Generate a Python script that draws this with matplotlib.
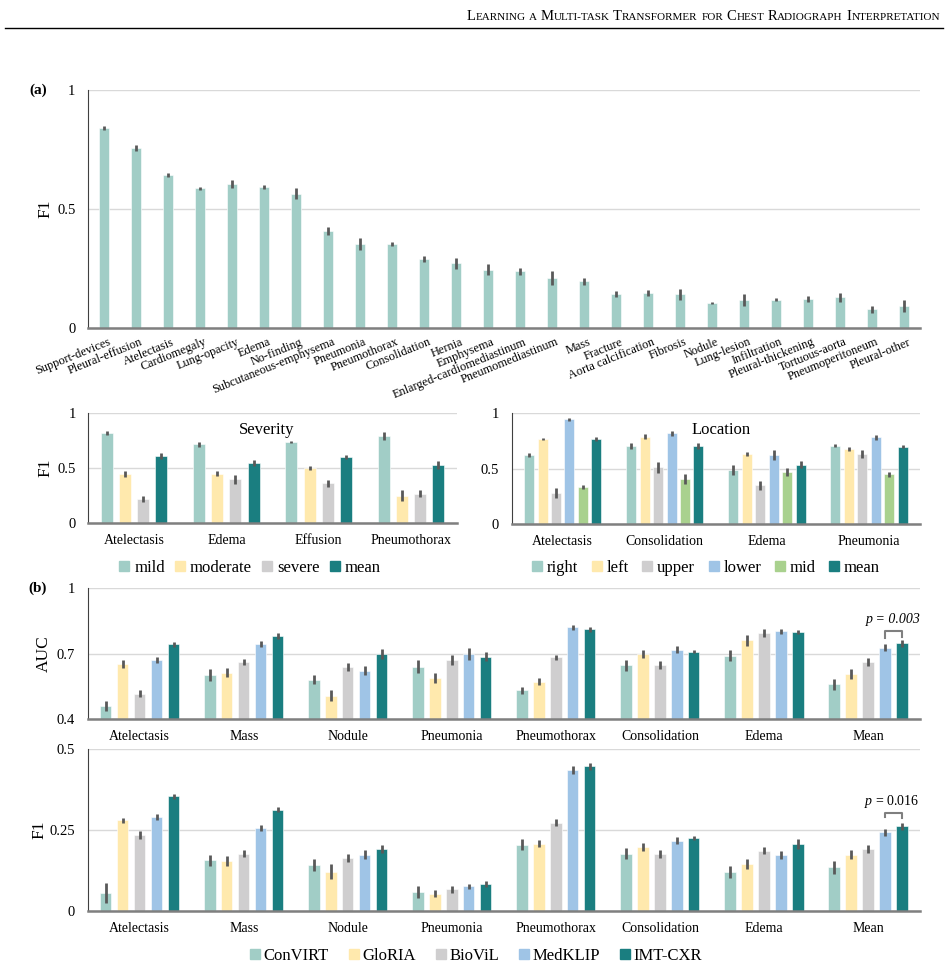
import matplotlib
matplotlib.use("Agg")
import matplotlib.pyplot as plt
import matplotlib.transforms as mtransforms
from matplotlib.patches import Patch
import numpy as np

plt.rcParams['font.family'] = ['Liberation Serif', 'DejaVu Serif']
plt.rcParams['mathtext.fontset'] = 'custom'
plt.rcParams['mathtext.it'] = 'Liberation Serif:italic'
plt.rcParams['mathtext.rm'] = 'Liberation Serif'

# ---------------- data ----------------
# (a) top: per-finding F1
top_labels = ["Support-devices", "Pleural-effusion", "Atelectasis", "Cardiomegaly", "Lung-opacity",
              "Edema", "No-finding", "Subcutaneous-emphysema", "Pneumonia", "Pneumothorax",
              "Consolidation", "Hernia", "Emphysema", "Enlarged-cardiomediastinum",
              "Pneumomediastinum", "Mass", "Fracture", "Aorta calcification", "Fibrosis", "Nodule",
              "Lung-lesion", "Infiltration", "Pleural-thickening", "Tortuous-aorta",
              "Pneumoperitoneum", "Pleural-other"]
top_f1 = [0.839, 0.756, 0.641, 0.586, 0.606, 0.593, 0.564, 0.407, 0.352, 0.352,
          0.289, 0.271, 0.244, 0.238, 0.209, 0.195, 0.143, 0.145, 0.140, 0.104,
          0.117, 0.117, 0.121, 0.128, 0.077, 0.091]
top_err = [0.009, 0.011, 0.008, 0.008, 0.017, 0.008, 0.022, 0.017, 0.027, 0.007,
           0.011, 0.024, 0.023, 0.015, 0.030, 0.015, 0.012, 0.013, 0.022, 0.006,
           0.024, 0.006, 0.011, 0.018, 0.015, 0.027]

# Severity
sev_groups = ["Atelectasis", "Edema", "Effusion", "Pneumothorax"]
sev_series = ["mild", "moderate", "severe", "mean"]
sev_mild = [0.818, 0.712, 0.733, 0.788]
sev_moderate = [0.443, 0.445, 0.497, 0.245]
sev_severe = [0.215, 0.394, 0.358, 0.264]
sev_mean = [0.606, 0.545, 0.600, 0.524]
sev_mild_err = [0.018, 0.021, 0.012, 0.036]
sev_moderate_err = [0.030, 0.024, 0.018, 0.048]
sev_severe_err = [0.030, 0.040, 0.030, 0.033]
sev_mean_err = [0.024, 0.026, 0.020, 0.038]

# Location
loc_groups = ["Atelectasis", "Consolidation", "Edema", "Pneumonia"]
loc_series = ["right", "left", "upper", "lower", "mid", "mean"]
loc_right = [0.620, 0.705, 0.488, 0.708]
loc_left = [0.768, 0.789, 0.632, 0.678]
loc_upper = [0.277, 0.512, 0.349, 0.632]
loc_lower = [0.946, 0.819, 0.623, 0.783]
loc_mid = [0.334, 0.404, 0.470, 0.449]
loc_mean = [0.768, 0.705, 0.536, 0.699]
loc_right_err = [0.018, 0.024, 0.042, 0.015]
loc_left_err = [0.006, 0.021, 0.015, 0.015]
loc_upper_err = [0.045, 0.051, 0.042, 0.032]
loc_lower_err = [0.012, 0.020, 0.045, 0.020]
loc_mid_err = [0.017, 0.047, 0.036, 0.021]
loc_mean_err = [0.018, 0.026, 0.030, 0.015]

# (b) model comparison
b_groups = ["Atelectasis", "Mass", "Nodule", "Pneumonia", "Pneumothorax", "Consolidation", "Edema", "Mean"]
models = ["ConVIRT", "GloRIA", "BioViL", "MedKLIP", "IMT-CXR"]
auc_convirt = [0.460, 0.603, 0.581, 0.640, 0.533, 0.647, 0.691, 0.560]
auc_gloria = [0.653, 0.614, 0.508, 0.588, 0.572, 0.699, 0.762, 0.609]
auc_biovil = [0.517, 0.664, 0.640, 0.670, 0.684, 0.650, 0.795, 0.662]
auc_medklip = [0.672, 0.745, 0.623, 0.699, 0.821, 0.719, 0.803, 0.727]
auc_imt = [0.744, 0.782, 0.698, 0.687, 0.812, 0.710, 0.800, 0.748]
auc_convirt_err = [0.024, 0.029, 0.021, 0.030, 0.017, 0.024, 0.025, 0.025]
auc_gloria_err = [0.018, 0.021, 0.026, 0.023, 0.016, 0.020, 0.026, 0.023]
auc_biovil_err = [0.017, 0.014, 0.020, 0.023, 0.012, 0.018, 0.019, 0.018]
auc_medklip_err = [0.015, 0.015, 0.020, 0.027, 0.011, 0.015, 0.012, 0.016]
auc_imt_err = [0.011, 0.014, 0.024, 0.020, 0.012, 0.008, 0.011, 0.015]

f1_convirt = [0.055, 0.156, 0.142, 0.058, 0.204, 0.176, 0.120, 0.134]
f1_gloria = [0.280, 0.155, 0.121, 0.053, 0.208, 0.198, 0.145, 0.173]
f1_biovil = [0.235, 0.177, 0.164, 0.066, 0.273, 0.176, 0.186, 0.191]
f1_medklip = [0.290, 0.255, 0.174, 0.075, 0.436, 0.217, 0.172, 0.243]
f1_imt = [0.355, 0.313, 0.191, 0.082, 0.447, 0.226, 0.206, 0.262]
f1_convirt_err = [0.030, 0.017, 0.018, 0.018, 0.017, 0.017, 0.019, 0.019]
f1_gloria_err = [0.007, 0.016, 0.024, 0.011, 0.012, 0.013, 0.015, 0.014]
f1_biovil_err = [0.012, 0.011, 0.012, 0.012, 0.011, 0.012, 0.010, 0.011]
f1_medklip_err = [0.009, 0.009, 0.013, 0.009, 0.011, 0.010, 0.013, 0.011]
f1_imt_err = [0.008, 0.008, 0.011, 0.010, 0.012, 0.006, 0.015, 0.011]

auc_pvalue = "p = 0.003"
f1_pvalue = "0.016"

# ---------------- style ----------------
C_TEAL_L = '#a1cdc6'
C_YEL = '#ffe9ad'
C_GRAY = '#cfcecf'
C_BLUE = '#9fc4e6'
C_GREEN = '#a9d18e'
C_TEAL_D = '#1a7e80'
ERR_C = '#595959'
GRID_C = '#d9d9d9'

W, H = 948, 967
fig = plt.figure(figsize=(W / 100, H / 100), dpi=100)


def ax_px(left, top, right, bottom):
    return fig.add_axes([left / W, 1 - bottom / H, (right - left) / W, (bottom - top) / H])


def style_ax(ax, ylim, yticks, yticklabels):
    ax.set_ylim(*ylim)
    ax.set_yticks(yticks)
    ax.set_yticklabels(yticklabels, fontsize=10.5)
    ax.yaxis.grid(True, color=GRID_C, lw=1.0)
    ax.set_axisbelow(True)
    for s in ['top', 'right']:
        ax.spines[s].set_visible(False)
    ax.spines['left'].set_color('#404040')
    ax.spines['left'].set_linewidth(0.8)
    ax.spines['bottom'].set_color('#7f7f7f')
    ax.spines['bottom'].set_linewidth(1.8)
    ax.spines['bottom'].set_zorder(5)
    ax.tick_params(axis='both', length=0)
    ax.tick_params(axis='y', pad=9)


def grouped(ax, groups, vals, errs, colors, spacing, width):
    n = len(vals)
    x = np.arange(len(groups))
    for i, (v, e, c) in enumerate(zip(vals, errs, colors)):
        off = (i - (n - 1) / 2) * spacing
        ax.bar(x + off, v, width, color=c, edgecolor='white', linewidth=0.4, zorder=2)
        ax.errorbar(x + off, v, yerr=e, fmt='none', ecolor=ERR_C, elinewidth=2.0, capsize=0, zorder=3)
    ax.set_xlim(-0.5, len(groups) - 0.5)
    ax.set_xticks(x)
    ax.set_xticklabels(groups, fontsize=10)
    ax.tick_params(axis='x', pad=8)
    return x


# ---------------- (a) top ----------------
ax1 = ax_px(88, 90, 920, 327.7)
style_ax(ax1, (0, 1), [0, 0.5, 1], ['0', '0.5', '1'])
xs = np.arange(len(top_labels))
ax1.bar(xs, top_f1, 0.31, color=C_TEAL_L, edgecolor='white', linewidth=0.4, zorder=2)
ax1.errorbar(xs, top_f1, yerr=top_err, fmt='none', ecolor=ERR_C, elinewidth=2.0, capsize=0, zorder=3)
ax1.set_xlim(-0.5, len(top_labels) - 0.5)
ax1.set_xticks(xs)
ax1.set_xticklabels(top_labels, fontsize=8.8, rotation=22, ha='right', va='top', rotation_mode='anchor')
ax1.tick_params(axis='x', pad=6)
offset = mtransforms.ScaledTranslation(4 / 100, 0, fig.dpi_scale_trans)
for lab in ax1.get_xticklabels():
    lab.set_transform(lab.get_transform() + offset)
ax1.set_ylabel('F1', fontsize=12.5)
fig.text(38 / W, 1 - 90 / H, '(a)', fontsize=11, fontweight='bold', ha='center', va='center')

# ---------------- severity ----------------
ax2 = ax_px(88.3, 412.7, 456.7, 522.7)
style_ax(ax2, (0, 1), [0, 0.5, 1], ['0', '0.5', '1'])
grouped(ax2, sev_groups, [sev_mild, sev_moderate, sev_severe, sev_mean],
        [sev_mild_err, sev_moderate_err, sev_severe_err, sev_mean_err],
        [C_TEAL_L, C_YEL, C_GRAY, C_TEAL_D], 0.196, 0.13)
ax2.set_ylabel('F1', fontsize=12.5)
ax2.text(0.485, 0.845, 'Severity', transform=ax2.transAxes, fontsize=12, ha='center', va='center')
fig.legend([Patch(color=c) for c in [C_TEAL_L, C_YEL, C_GRAY, C_TEAL_D]], sev_series,
           loc='center', bbox_to_anchor=(250 / W, 1 - 568 / H), ncol=4, frameon=False, fontsize=12,
           handlelength=0.6, handleheight=0.6, handletextpad=0.3, columnspacing=0.6, borderpad=0)

# ---------------- location ----------------
ax3 = ax_px(511.7, 413.3, 920, 524)
style_ax(ax3, (0, 1), [0, 0.5, 1], ['0', '0.5', '1'])
grouped(ax3, loc_groups, [loc_right, loc_left, loc_upper, loc_lower, loc_mid, loc_mean],
        [loc_right_err, loc_left_err, loc_upper_err, loc_lower_err, loc_mid_err, loc_mean_err],
        [C_TEAL_L, C_YEL, C_GRAY, C_BLUE, C_GREEN, C_TEAL_D], 0.132, 0.098)
ax3.text((720.7 - 511.7) / (920 - 511.7), 0.845, 'Location', transform=ax3.transAxes, fontsize=12,
         ha='center', va='center')
fig.legend([Patch(color=c) for c in [C_TEAL_L, C_YEL, C_GRAY, C_BLUE, C_GREEN, C_TEAL_D]], loc_series,
           loc='center', bbox_to_anchor=(706 / W, 1 - 568 / H), ncol=6, frameon=False, fontsize=12,
           handlelength=0.6, handleheight=0.6, handletextpad=0.3, columnspacing=0.8, borderpad=0)

# ---------------- (b) AUC ----------------
model_colors = [C_TEAL_L, C_YEL, C_GRAY, C_BLUE, C_TEAL_D]
ax4 = ax_px(87.7, 588.3, 920, 719.3)
style_ax(ax4, (0.4, 1.0), [0.4, 0.7, 1.0], ['0.4', '0.7', '1'])
grouped(ax4, b_groups, [auc_convirt, auc_gloria, auc_biovil, auc_medklip, auc_imt],
        [auc_convirt_err, auc_gloria_err, auc_biovil_err, auc_medklip_err, auc_imt_err],
        model_colors, 0.163, 0.109)
ax4.set_ylabel('AUC', fontsize=12.5)
fig.text(38 / W, 1 - 588 / H, '(b)', fontsize=11, fontweight='bold', ha='center', va='center')

sp = 0.163
xm, xi = 7 + 1 * sp, 7 + 2 * sp
ax4.plot([xm, xm, xi, xi], [0.772, 0.805, 0.805, 0.778], color='#7f7f7f', lw=1.5, clip_on=False, zorder=4)
ax4.text(7.245, 0.857, auc_pvalue, fontsize=10, style='italic', ha='center', va='center', clip_on=False)

# ---------------- (b) F1 ----------------
ax5 = ax_px(87.7, 749.3, 920, 910.7)
style_ax(ax5, (0, 0.5), [0, 0.25, 0.5], ['0', '0.25', '0.5'])
grouped(ax5, b_groups, [f1_convirt, f1_gloria, f1_biovil, f1_medklip, f1_imt],
        [f1_convirt_err, f1_gloria_err, f1_biovil_err, f1_medklip_err, f1_imt_err],
        model_colors, 0.163, 0.109)
ax5.set_ylabel('F1', fontsize=12.5)
ax5.plot([xm, xm, xi, xi], [0.290, 0.304, 0.304, 0.287], color='#7f7f7f', lw=1.5, clip_on=False, zorder=4)
ax5.text(7.23, 0.337, r'$\mathit{p}$ = ' + f1_pvalue, fontsize=10, ha='center', va='center', clip_on=False)

fig.legend([Patch(color=c) for c in model_colors], models,
           loc='center', bbox_to_anchor=(476 / W, 1 - 956 / H), ncol=5, frameon=False, fontsize=12,
           handlelength=0.6, handleheight=0.6, handletextpad=0.2, columnspacing=1.2, borderpad=0)

# align y labels (centre of label in pixels)
for ax, cx in [(ax1, 45), (ax2, 45), (ax4, 44), (ax5, 39)]:
    ax.yaxis.label.set_va('center')
    left_px = ax.get_position().x0 * W
    ax.yaxis.set_label_coords(-(left_px - cx) / (ax.get_position().width * W), 0.5)

# ---------------- header (small caps) ----------------
header = "Learning a Multi-task Transformer for Chest Radiograph Interpretation"
renderer = fig.canvas.get_renderer()


def draw_smallcaps(text, x_right, y, big, ratio=0.76):
    pieces = []
    for ch in text:
        if ch == ' ':
            pieces.append((' ', None))
        elif ch.isupper():
            pieces.append((ch, big))
        else:
            pieces.append((ch.upper(), big * ratio))
    runs = []
    for ch, sz in pieces:
        if runs and runs[-1][1] == sz:
            runs[-1][0] += ch
        else:
            runs.append([ch, sz])
    space_w = big * 0.25 * 100 / 72
    widths = []
    for s, sz in runs:
        if sz is None:
            widths.append(space_w * len(s))
        else:
            t = fig.text(0, 0, s, fontsize=sz)
            widths.append(t.get_window_extent(renderer).width)
            t.remove()
    total = sum(widths)
    x = x_right - total
    for (s, sz), w in zip(runs, widths):
        if sz is not None:
            fig.text(x / W, 1 - y / H, s, fontsize=sz, ha='left', va='baseline')
        x += w
    return total


draw_smallcaps(header, 940, 20, 10.5)
fig.add_artist(plt.Line2D([5 / W, 943 / W], [1 - 27.5 / H, 1 - 27.5 / H], color='black', lw=1.0))

fig.savefig('out.png', dpi=100)
